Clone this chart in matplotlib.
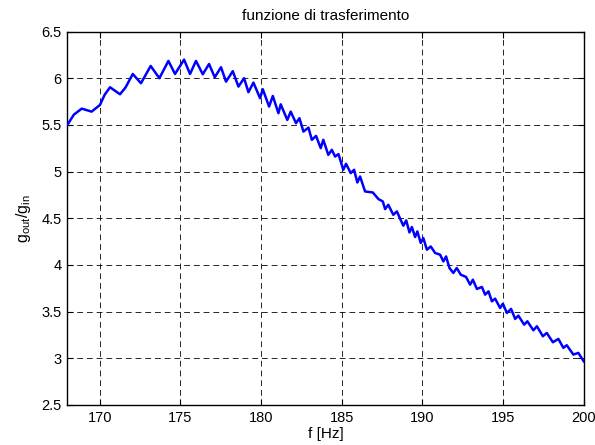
import matplotlib
matplotlib.use("Agg")
import matplotlib.pyplot as plt

plt.rcParams['font.family'] = ['Liberation Sans', 'DejaVu Sans']

# Transfer function magnitude vs frequency
freq_hz = [
    168.0, 168.4, 168.89, 169.5, 170.02, 170.3, 170.64, 171.26, 171.6, 172.05, 172.56, 173.16, 173.7,
    174.26, 174.67, 175.23, 175.6, 175.97, 176.39, 176.78, 177.13, 177.52, 177.83,
    178.25, 178.6, 178.95, 179.22, 179.53, 179.94, 180.11, 180.5, 180.73, 181.08,
    181.22, 181.63, 181.84, 182.17, 182.38, 182.63, 182.94, 183.15, 183.41, 183.7,
    183.86, 184.17, 184.39, 184.59, 184.8, 185.1, 185.27, 185.56, 185.77, 185.97,
    186.14, 186.45, 186.93, 187.28, 187.55, 187.69, 187.89, 188.2, 188.42, 188.82,
    189.0, 189.2, 189.35, 189.55, 189.69, 189.9, 190.06, 190.28, 190.52, 190.79,
    191.1, 191.3, 191.47, 191.68, 191.92, 192.13, 192.38, 192.71, 192.96, 193.13,
    193.38, 193.69, 193.89, 194.1, 194.31, 194.51, 194.82, 194.99, 195.24, 195.5,
    195.75, 195.95, 196.31, 196.51, 196.88, 197.1, 197.47, 197.71, 198.09, 198.43,
    198.74, 198.95, 199.36, 199.67, 200.0,
]
gain_ratio = [
    5.50, 5.61, 5.674, 5.642, 5.714, 5.82, 5.903, 5.828, 5.90, 6.045, 5.946, 6.131, 6.00,
    6.185, 6.045, 6.199, 6.045, 6.185, 6.042, 6.152, 6.010, 6.117, 5.963,
    6.075, 5.910, 6.000, 5.850, 5.953, 5.786, 5.882, 5.696, 5.810, 5.625,
    5.720, 5.553, 5.642, 5.518, 5.572, 5.428, 5.471, 5.340, 5.382, 5.251,
    5.340, 5.179, 5.233, 5.161, 5.187, 5.019, 5.083, 4.983, 5.019, 4.883,
    4.947, 4.787, 4.776, 4.705, 4.680, 4.598, 4.644, 4.537, 4.573, 4.420,
    4.477, 4.348, 4.406, 4.299, 4.359, 4.235, 4.288, 4.163, 4.198, 4.128,
    4.110, 4.038, 4.091, 3.967, 3.914, 3.967, 3.896, 3.871, 3.789, 3.842,
    3.743, 3.764, 3.682, 3.717, 3.610, 3.639, 3.539, 3.585, 3.486, 3.529,
    3.422, 3.457, 3.361, 3.396, 3.300, 3.343, 3.236, 3.272, 3.172, 3.208,
    3.112, 3.140, 3.040, 3.058, 2.968,
]

x_ticks = [170, 175, 180, 185, 190, 195, 200]
y_ticks = [2.5, 3, 3.5, 4, 4.5, 5, 5.5, 6, 6.5]

fig = plt.figure(figsize=(5.95, 4.45), dpi=100)
ax = fig.add_axes([0.1133, 0.0899, 0.8677, 0.8393])

ax.plot(freq_hz, gain_ratio, color=(0, 0, 1), linewidth=1.8,
        solid_joinstyle='round', zorder=3)

ax.set_xlim(168, 200)
ax.set_ylim(2.5, 6.5)
ax.set_xticks(x_ticks)
ax.set_yticks(y_ticks)
ax.set_xticklabels([str(t) for t in x_ticks])
ax.set_yticklabels(['2.5', '3', '3.5', '4', '4.5', '5', '5.5', '6', '6.5'])

ax.grid(True, color='black', linestyle=(0, (6, 4)), linewidth=0.7, alpha=0.85)
ax.tick_params(direction='in', length=4, width=0.8, top=True, right=True,
               labelsize=10.5, pad=4, colors='black')
for s in ax.spines.values():
    s.set_linewidth(1.0)
    s.set_color('black')

ax.set_title('funzione di trasferimento', fontsize=11, pad=8)
ax.set_xlabel('f [Hz]', fontsize=11, labelpad=2)
ax.set_ylabel(r'$\mathregular{g_{out}/g_{in}}$', fontsize=11.5, labelpad=6)

fig.savefig('out.png', dpi=100)
